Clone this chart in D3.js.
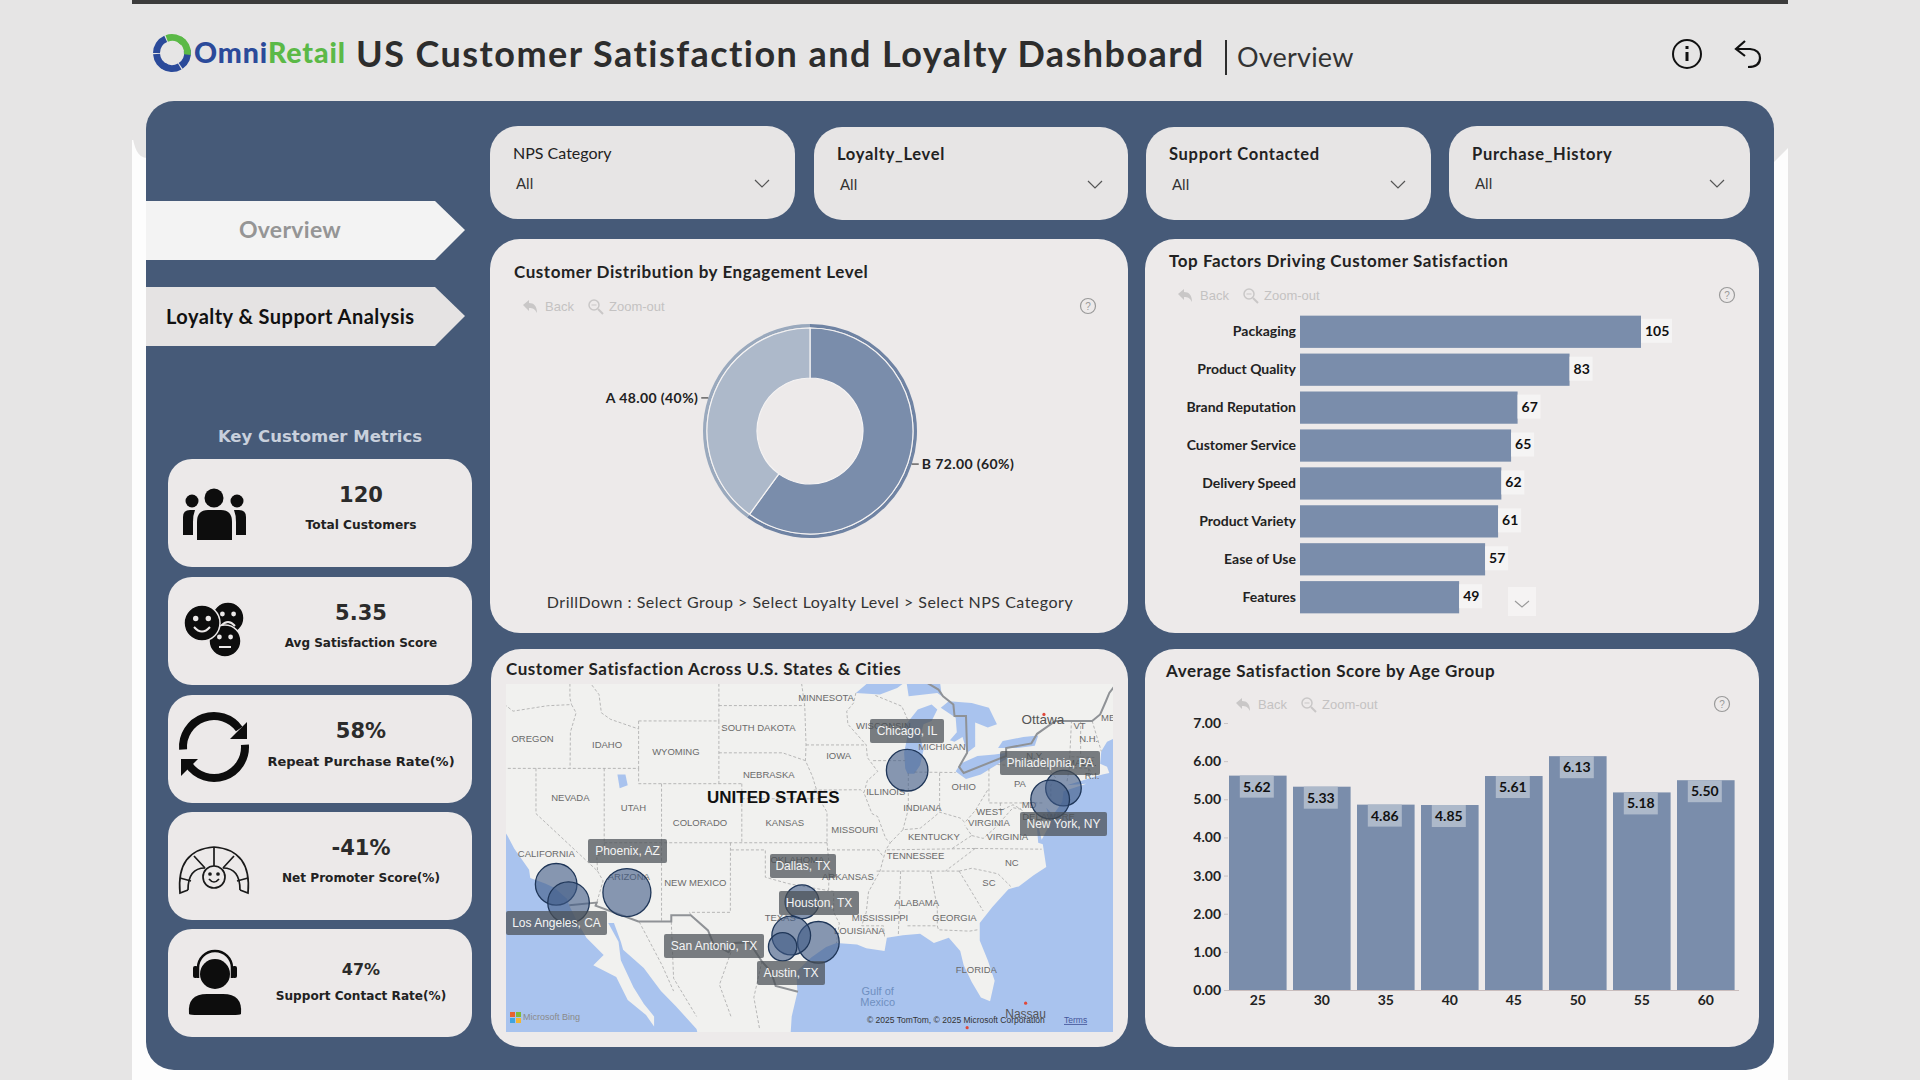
<!DOCTYPE html>
<html lang="en">
<head>
<meta charset="UTF-8">
<script src="https://d3js.org/d3.v7.min.js"></script>
<title>US Customer Satisfaction and Loyalty Dashboard</title>
<style>
  body { margin: 0; background: #e6e5e5; overflow: hidden; }
  svg { display: block; }
  text { font-family: Lato, sans-serif; }
  .axis path.domain { display: none; }
</style>
</head>
<body>
<svg id="dash" width="1920" height="1080"></svg>
<script>
// ---- data ----
const slicerLabels = ["NPS Category", "Loyalty_Level", "Support Contacted", "Purchase_History"];
const metricValues = ["120", "5.35", "58%", "-41%", "47%"];
const metricLabels = ["Total Customers", "Avg Satisfaction Score", "Repeat Purchase Rate(%)", "Net Promoter Score(%)", "Support Contact Rate(%)"];
const engagementGroups = ["B", "A"];
const engagementCounts = [72, 48];
const factorNames = ["Packaging", "Product Quality", "Brand Reputation", "Customer Service", "Delivery Speed", "Product Variety", "Ease of Use", "Features"];
const factorCounts = [105, 83, 67, 65, 62, 61, 57, 49];
const ageGroups = ["25", "30", "35", "40", "45", "50", "55", "60"];
const ageScores = [5.62, 5.33, 4.86, 4.85, 5.61, 6.13, 5.18, 5.50];
const cityNames = ["Chicago, IL", "Phoenix, AZ", "Los Angeles, CA", "San Diego, CA", "Dallas, TX", "Houston, TX", "Austin, TX", "San Antonio, TX", "New York, NY", "Philadelphia, PA"];
const cityLons = [-87.63, -112.07, -118.24, -117.16, -96.80, -95.37, -97.74, -98.49, -74.00, -75.16];
const cityLats = [41.88, 33.45, 34.05, 32.72, 32.78, 29.76, 30.27, 29.42, 40.71, 39.95];
const citySizes = [15, 20, 15, 15, 10, 15, 13, 7, 11, 13];

// basemap, lon/lat
const landOutline = [[-130,49],[-124.7,48.4],[-124.1,46.9],[-124,46.2],[-124.1,44.5],[-124.5,42.8],[-124.2,41.5],[-124.4,40.4],[-123.8,39.3],[-122.9,38],[-122.5,37.5],[-121.9,36.6],[-120.6,35.1],[-120.5,34.5],[-119.2,34.1],[-118.4,33.8],[-117.3,33],[-117.1,32.5],[-116.4,31.3],[-115.6,30.1],[-114.1,28.8],[-115,28],[-113,27.1],[-112,25.3],[-110.4,24.1],[-109.7,23.2],[-109.7,24],[-110.6,25],[-111.5,26.3],[-112.6,28.4],[-112.8,29.8],[-113.7,31.2],[-113.2,31.2],[-112.6,29.8],[-112.4,29.2],[-110.6,27.8],[-109.1,26],[-107.8,24.8],[-106,23],[-105.6,21.5],[-97.8,21.5],[-97.8,22.5],[-97.7,24],[-97.2,25.9],[-97.3,27.5],[-96,28.6],[-94.7,29.4],[-93.8,29.7],[-92,29.6],[-91.2,29.3],[-89.6,29.1],[-89.4,30.1],[-88,30.3],[-86.5,30.4],[-85.3,29.7],[-84,30.1],[-83,29.1],[-82.7,28],[-82,26.7],[-81.2,25.5],[-80.4,25.2],[-80,26.8],[-80.6,28.4],[-81.3,29.9],[-81.3,31.2],[-80.2,32.4],[-78.8,33.7],[-77.9,33.9],[-76.6,34.7],[-75.5,35.3],[-75.8,36.9],[-76.2,37],[-76.4,38.8],[-75.9,37.2],[-75.1,38.4],[-75.5,39.4],[-74.9,38.9],[-74.1,39.8],[-74,40.5],[-72,41],[-73.7,40.9],[-71.5,41.4],[-70.6,41.6],[-70,41.7],[-70.2,42.1],[-70.8,42.3],[-70.7,43.1],[-70.2,43.7],[-69,44.1],[-67.2,44.7],[-66,45],[-64,47],[-64,49]];
const lakes = [
  [[-92.1,46.7],[-90,46.6],[-88.5,47],[-87.7,47.4],[-87.5,46.5],[-85,46.7],[-84.6,46.5],[-84.8,47.5],[-86,48.7],[-89,48.3],[-90,47.9]],
  [[-87.8,42],[-87.6,41.65],[-87,41.65],[-86.5,42.2],[-86.2,43.2],[-86.5,44],[-86.2,44.8],[-85.5,45],[-85,45.7],[-85.5,46],[-86.7,45.7],[-87.5,45],[-88,44.5],[-87.5,44.4],[-87.9,43]],
  [[-84.7,45.8],[-83.4,45.2],[-83.3,44.3],[-83.9,43.8],[-83.5,43.7],[-82.8,44],[-82.4,43],[-81.7,43.4],[-81.7,44.9],[-80.6,44.6],[-79.8,44.8],[-80.5,45.8],[-82,46.1],[-84,46.2]],
  [[-83.4,41.8],[-82.5,41.3],[-81.2,41.6],[-79,42.6],[-78.9,43],[-80,42.9],[-81.5,42.8],[-83,42.3]],
  [[-79.7,43.3],[-78,43.3],[-76.5,43.45],[-76.2,44.1],[-77.5,44],[-79.3,43.75]],
  [[-112.9,41.6],[-112.2,41.6],[-112,40.9],[-112.7,40.7]]
];
const countryBorders = [
  [[-89.5,48],[-88.4,48.3],[-84.9,46.9],[-84.5,46.5],[-83.6,46],[-83.5,45.3],[-82.5,45.3],[-82.4,43],[-83.1,42.1],[-82.7,41.7],[-79,42.8],[-79,43.3],[-76.8,43.6],[-76.3,44.2],[-74.7,45],[-71.5,45],[-70.8,45.4],[-70.3,46.2],[-70,46.7],[-69.2,47.4]],
  [[-117.1,32.53],[-114.7,32.72],[-114.8,32.5],[-111.07,31.33],[-108.2,31.33],[-108.2,31.78],[-106.5,31.78],[-105,30.65],[-104.5,29.6],[-103.2,29],[-102.7,29.7],[-101.4,29.77],[-100.3,28.3],[-99.5,27.5],[-99.1,26.4],[-97.15,25.95]]
];
const stateBorders = [
  [[-124,46.25],[-123,46.15],[-122,45.6],[-119,45.93],[-116.9,46]],[[-117.04,49],[-117.04,46.4],[-116.9,46]],[[-116.9,46],[-116.5,45.5],[-117,44.3],[-117.03,42]],
  [[-124.2,42],[-111.05,42]],[[-120,42],[-120,39],[-114.63,35]],[[-114.63,35],[-114.15,34.3],[-114.7,32.72]],[[-114.05,42],[-114.05,36.2],[-114.7,36.1],[-114.63,35]],
  [[-114.05,37],[-94.62,37]],[[-109.05,37],[-109.05,31.33]],[[-109.05,41],[-109.05,37]],[[-111.05,42],[-111.05,41],[-102.05,41]],[[-111.05,45],[-111.05,42]],[[-104.05,45],[-104.05,41]],
  [[-111.05,45],[-104.05,45]],[[-116.05,49],[-116.05,48],[-114.5,46.6],[-114.3,45.5],[-113.5,45.1],[-111.05,44.5]],[[-104.05,49],[-104.05,45]],[[-104.05,45.94],[-96.56,45.94]],
  [[-104.05,43],[-98.5,43],[-96.5,42.5]],[[-102.05,41],[-102.05,37]],[[-102.05,40],[-95.3,40]],[[-103.04,37],[-103.05,32],[-106.6,32],[-106.5,31.78]],
  [[-103,36.5],[-100,36.5],[-100,34.56],[-98,34.1],[-96,33.8],[-94.5,33.6]],[[-94.62,37],[-94.43,35.4],[-94.48,33.6],[-94.04,33.55],[-94.04,32],[-93.55,31.2],[-93.8,29.7]],
  [[-97.2,49],[-96.56,45.9],[-96.45,43.5],[-96.5,42.5],[-95.9,41.5],[-95.3,40],[-94.62,39.1],[-94.62,37]],[[-96.45,43.5],[-91.2,43.5]],[[-95.77,40.58],[-91.7,40.6],[-91.4,40.4]],
  [[-92.1,46.7],[-92.3,46.1],[-92.9,45.6],[-92.8,44.8],[-91.2,43.5],[-91.1,42.7],[-90.2,41.8],[-91.1,41.2],[-91.4,40.4],[-90.7,39],[-90.2,38.8],[-89.5,37.3],[-89.1,37],[-89.5,36.5],[-90,35],[-91,33.5],[-91.2,32],[-91.6,31],[-89.7,31],[-89.6,30.2]],
  [[-94.62,36.5],[-90.15,36.5],[-89.7,36]],[[-90.6,42.5],[-87.8,42.5]],[[-90.4,46.55],[-88.1,45.9],[-87.6,45.1]],[[-87.53,41.7],[-87.53,39.3],[-88,37.9]],
  [[-89.1,37],[-88,37.9],[-86.5,38],[-85.4,38.7],[-84.8,39.1],[-83,38.7],[-82.6,38.4],[-81.7,39.2],[-80.6,40.6]],[[-84.8,41.7],[-84.8,39.1]],[[-87,41.76],[-83.4,41.73]],
  [[-89.4,36.5],[-81.7,36.6]],[[-81.7,36.6],[-75.9,36.55]],[[-90.3,35],[-83.1,35]],[[-81.7,36.6],[-84.3,35]],[[-88.2,35],[-88.4,30.3]],[[-85.6,35],[-85,32.3],[-85,31]],
  [[-87.6,31],[-85,31],[-84.9,30.7],[-82.2,30.6],[-81.5,30.7]],[[-83.1,35],[-81,32.1]],[[-83.1,35],[-82,35.2],[-80.8,35],[-79.7,34.8],[-78.6,33.9]],[[-83.7,36.6],[-82,37.5],[-82.6,38.2]],
  [[-82,37.5],[-81,37.3],[-80,38],[-78.4,39.4],[-77.7,39.3]],[[-80.5,42],[-80.5,39.72],[-75.8,39.72]],[[-79.76,42.25],[-75.3,42],[-74.7,41.4],[-75.1,40.9],[-75.1,39.9]],
  [[-73.5,42],[-73.3,45]],[[-73.5,42],[-73.7,41.1]],[[-79.5,39.72],[-79.5,39.2],[-78.4,39.6],[-77.7,39.3],[-77,38.6],[-76.3,38]],[[-73.3,42.75],[-71.3,42.7]],[[-73.5,42.05],[-71.8,42],[-71.4,41.5]],[[-71.8,42],[-71.8,41.35]],[[-71.5,45],[-70.7,43.1]],[[-72.5,45],[-72.5,42.75]],
  [[-111,31.3],[-109,28],[-108,26]],[[-108.2,31.3],[-108,27],[-106,24]],[[-103,29],[-104,26.5],[-103,24]],[[-100.3,28.3],[-101,25.5],[-100.5,23]]
];
const stateLabelNames = ["MINNESOTA","SOUTH DAKOTA","OREGON","IDAHO","WYOMING","NEBRASKA","IOWA","WISCONSIN","MICHIGAN","N.Y.","MASS.","VT","N.H.","ME","R.I.","NEVADA","UTAH","ILLINOIS","OHIO","PA","INDIANA","COLORADO","KANSAS","MISSOURI","KENTUCKY","WEST","VIRGINIA","VIRGINIA","MD","DELAWARE","TENNESSEE","NC","SC","ALABAMA","GEORGIA","MISSISSIPPI","LOUISIANA","ARKANSAS","OKLAHOMA","NEW MEXICO","ARIZONA","CALIFORNIA","TEXAS","FLORIDA"];
const stateLabelLons = [-94.7,-100.6,-120.3,-113.8,-107.8,-99.7,-93.6,-89.7,-84.6,-76.5,-72.4,-72.6,-71.8,-70.1,-71.5,-117,-111.5,-89.5,-82.7,-77.8,-86.3,-105.7,-98.3,-92.2,-85.3,-80.4,-80.5,-78.9,-77,-75.3,-86.9,-78.5,-80.5,-86.8,-83.5,-90,-91.8,-92.8,-97.2,-106.1,-111.9,-119.1,-98.7,-81.6];
const stateLabelLats = [46.4,44.6,43.9,43.5,43.1,41.6,42.8,44.7,43.4,42.8,42.4,44.7,43.9,45.2,41.5,40.1,39.4,40.5,40.8,41,39.4,38.4,38.4,37.9,37.4,39.1,38.4,37.4,39.6,38.8,36.1,35.6,34.2,32.7,31.6,31.6,30.6,34.6,35.8,34.2,34.6,36.2,31.6,27.7];

// ---- helpers ----
const svg = d3.select("#dash");
const colBar = "#7a8dab", colLight = "#adb9ca", colPanel = "#465a78", colCard = "#edeaea";

function txt(g, x, y, s, size, opts = {}) {
  return g.append("text").attr("x", x).attr("y", y).attr("dy", "0.35em")
    .attr("font-size", size)
    .attr("font-weight", opts.weight || 400)
    .attr("fill", opts.fill || "#222")
    .attr("text-anchor", opts.anchor || "start")
    .attr("letter-spacing", opts.spacing || null)
    .style("font-family", opts.font || null)
    .text(s);
}
function card(x, y, w, h, r, fill) {
  svg.append("rect").attr("x", x).attr("y", y).attr("width", w).attr("height", h).attr("rx", r).attr("fill", fill || colCard);
}
function toolbar(arrowX, y, helpX) {
  const g = svg.append("g").attr("stroke", "#c9c7c7");
  g.append("path").attr("fill", "#c9c7c7").attr("stroke", "none")
    .attr("d", `M${arrowX - 7},${y - 1}l6,-5v3c5,0 8,3 8,10c-2,-4 -4,-5 -8,-5v3z`);
  g.append("circle").attr("cx", arrowX + 64).attr("cy", y - 1).attr("r", 5).attr("fill", "none").attr("stroke-width", 1.5);
  g.append("path").attr("d", `M${arrowX + 68},${y + 3}l5,5`).attr("stroke-width", 2);
  g.append("path").attr("d", `M${arrowX + 61.5},${y - 1}h5`).attr("stroke-width", 1);
  txt(svg, arrowX + 15, y, "Back", 13, { fill: "#c4c2c2", font: "Liberation Sans" });
  txt(svg, arrowX + 79, y, "Zoom-out", 13, { fill: "#c4c2c2", font: "Liberation Sans" });
  const h = svg.append("g");
  h.append("circle").attr("cx", helpX).attr("cy", y).attr("r", 7.5).attr("fill", "none").attr("stroke", "#9a9a9a").attr("stroke-width", 1.2);
  txt(h, helpX, y, "?", 10, { fill: "#9a9a9a", anchor: "middle", font: "Liberation Sans" });
}

// ---- page frame ----
svg.append("rect").attr("x", 132).attr("y", 140).attr("width", 1656).attr("height", 940).attr("fill", "#fdfdfd");
svg.append("path").attr("fill", "#e6e5e5").attr("d", "M132,130 Q134,158 147,158 L1774,162 L1788,148 L1788,0 L132,0 Z");
svg.append("rect").attr("x", 132).attr("y", 0).attr("width", 1656).attr("height", 4).attr("fill", "#3c3c3c");
card(146, 101, 1628, 969, 28, colPanel);

// ---- header ----
const head = svg.append("g");
const swirl = head.append("g").attr("transform", "translate(172,53)");
[[200, "#2b4a9a"], [270, "#2b4a9a"], [80, "#2b4a9a"], [150, "#2b4a9a"], [340, "#5bb947"], [30, "#5bb947"]].forEach(([a, c]) => {
  swirl.append("path").attr("fill", c)
    .attr("d", d3.arc().innerRadius(12).outerRadius(19).startAngle(a * Math.PI / 180).endAngle((a + 66) * Math.PI / 180)());
});
const logo = txt(head, 194, 53, "Omni", 28.5, { weight: 900, fill: "#2b4a9a", spacing: 0.9 });
logo.append("tspan").attr("fill", "#5bb947").text("Retail");
txt(head, 356, 54, "US Customer Satisfaction and Loyalty Dashboard", 36, { weight: 700, fill: "#2d2d2d", spacing: 1.45 });
head.append("rect").attr("x", 1225).attr("y", 40).attr("width", 2).attr("height", 35).attr("fill", "#2d2d2d");
txt(head, 1237, 58, "Overview", 27, { fill: "#333", spacing: 0.2 });
head.append("circle").attr("cx", 1687).attr("cy", 54).attr("r", 14).attr("fill", "none").attr("stroke", "#111").attr("stroke-width", 2);
head.append("rect").attr("x", 1685.5).attr("y", 52).attr("width", 3).attr("height", 9).attr("fill", "#111");
head.append("rect").attr("x", 1685.5).attr("y", 46).attr("width", 3).attr("height", 3).attr("fill", "#111");
head.append("path").attr("fill", "none").attr("stroke", "#111").attr("stroke-width", 2.2)
  .attr("d", "M1745,41 L1736,49 L1745,56 M1736,49 H1750 Q1760,50 1760,58 Q1760,67 1748,67");

// ---- slicers ----
const slicerBoxes = [[490, 126, 305, 93], [814, 127, 314, 93], [1146, 127, 285, 93], [1449, 126, 301, 93]];
slicerLabels.forEach((s, i) => {
  const [x, y, w, h] = slicerBoxes[i];
  card(x, y, w, h, 28, "#e7e5e5");
  txt(svg, x + 23, y + (i === 3 ? 28 : 27), s, i === 0 ? 16 : 16.5, { weight: i === 0 ? 400 : 700, fill: "#222", spacing: i === 0 ? 0 : 0.7 });
  txt(svg, x + 26, y + 58, "All", 15, { fill: "#333" });
  svg.append("path").attr("fill", "none").attr("stroke", "#555").attr("stroke-width", 1.2)
    .attr("d", `M${x + w - 40},${y + 54}l7,7l7,-7`);
});

// ---- left tabs ----
svg.append("path").attr("fill", "#f3f3f3").attr("d", "M146,201H435L465,230L435,260H146Z");
svg.append("path").attr("fill", "#e5e3e3").attr("d", "M146,287H435L465,316L435,346H146Z");
txt(svg, 290, 230, "Overview", 23, { anchor: "middle", fill: "#959595", weight: 700, spacing: 0.3 });
txt(svg, 166, 317, "Loyalty & Support Analysis", 20, { weight: 700, fill: "#111", spacing: 0.45 });
txt(svg, 320, 436, "Key Customer Metrics", 16.5, { anchor: "middle", weight: 700, fill: "#c9d0dc", font: "DejaVu Sans" });

// ---- metric cards ----
const metricTops = [459, 577, 695, 812, 929];
const metricValueSize = [21, 21, 21, 21, 16];
const metricLabelSize = [12.2, 12, 13, 12.1, 12.1];
metricValues.forEach((v, i) => {
  const top = metricTops[i];
  card(168, top, 304, 108, 24, "#ece9e9");
  txt(svg, 361, top + (i === 4 ? 40 : 36), v, metricValueSize[i], { anchor: "middle", font: "DejaVu Sans", weight: 700, fill: "#2b2b2b" });
  txt(svg, 361, top + (i === 4 ? 67 : 66), metricLabels[i], metricLabelSize[i], { anchor: "middle", font: "DejaVu Sans", weight: 700, fill: "#222" });
});

// icons
const ic = svg.append("g").attr("fill", "#0d0d0d");
// people
ic.append("circle").attr("cx", 214).attr("cy", 498).attr("r", 9.5);
ic.append("circle").attr("cx", 192).attr("cy", 501).attr("r", 6.5);
ic.append("circle").attr("cx", 237).attr("cy", 501).attr("r", 6.5);
ic.append("path").attr("d", "M197,540V522Q197,510 208,510H221Q232,510 232,522V540Z");
ic.append("path").attr("d", "M183,535V517Q183,510 190,510H195Q193,515 193,522V535Z");
ic.append("path").attr("d", "M246,535V517Q246,510 239,510H234Q236,515 236,522V535Z");
// faces
[[228, 618, 16, "sad"], [225, 641, 16, "flat"], [202, 623, 18, "happy"]].forEach(([cx, cy, r, kind]) => {
  ic.append("circle").attr("cx", cx).attr("cy", cy).attr("r", r).attr("stroke", "#ece9e9").attr("stroke-width", 1.5);
  [-1, 1].forEach(s => ic.append("circle").attr("cx", cx + s * r * 0.35).attr("cy", cy - r * 0.25).attr("r", r * 0.15).attr("fill", "#ece9e9"));
  const mouth = kind === "happy" ? `M${cx - 8},${cy + 4}Q${cx},${cy + 13} ${cx + 8},${cy + 4}`
    : kind === "sad" ? `M${cx - 7},${cy + 8}Q${cx},${cy} ${cx + 7},${cy + 8}` : `M${cx - 6},${cy + 6}H${cx + 6}`;
  ic.append("path").attr("d", mouth).attr("fill", "none").attr("stroke", "#ece9e9").attr("stroke-width", 2);
});
// refresh arrows
const refresh = ic.append("g").attr("transform", "translate(214,747)");
[[-1.65, 0.95], [1.5, 4.1]].forEach(([a0, a1]) => {
  refresh.append("path").attr("d", d3.arc().innerRadius(27).outerRadius(35).startAngle(a0).endAngle(a1)());
});
refresh.append("path").attr("d", "M16,-8L33,-8L33,-25Z");
refresh.append("path").attr("d", "M-16,12L-33,12L-33,29Z");
// gauge
const gauge = svg.append("g").attr("transform", "translate(214,884)").attr("fill", "none").attr("stroke", "#1a1a1a").attr("stroke-width", 1.7);
gauge.append("path").attr("d", "M-26,6L-34,9Q-38,-34 0,-37Q38,-34 34,9L26,6");
gauge.append("path").attr("d", "M-26,6Q-26,-16 -9,-16M26,6Q26,-16 9,-16");
gauge.append("path").attr("d", "M-34,-6L-23,-3M-20,-28L-9,-16M0,-37V-18M20,-28L9,-16M34,-6L23,-3");
gauge.append("circle").attr("cy", -7).attr("r", 11);
gauge.append("path").attr("d", "M-5,-5Q0,1 5,-5");
gauge.append("circle").attr("cx", -4).attr("cy", -10).attr("r", 1).attr("fill", "#1a1a1a");
gauge.append("circle").attr("cx", 4).attr("cy", -10).attr("r", 1).attr("fill", "#1a1a1a");
// support agent
ic.append("circle").attr("cx", 215).attr("cy", 974).attr("r", 15);
ic.append("path").attr("d", "M198,978V968A17,17 0 0 1 232,968V978").attr("fill", "none").attr("stroke", "#0d0d0d").attr("stroke-width", 2.5);
ic.append("rect").attr("x", 193).attr("y", 966).attr("width", 5).attr("height", 12).attr("rx", 2);
ic.append("rect").attr("x", 232).attr("y", 966).attr("width", 5).attr("height", 12).attr("rx", 2);
ic.append("path").attr("d", "M189,1014Q187,994 207,994H223Q243,994 241,1014Q240,1015 232,1015H198Q190,1015 189,1014Z");

// ---- chart cards ----
card(490, 239, 638, 394, 30);
card(1145, 239, 614, 394, 30);
card(491, 649, 637, 398, 30);
card(1145, 649, 614, 398, 30);

// ---- donut ----
const titleStyle = { weight: 700, fill: "#222", spacing: 0.55 };
txt(svg, 514, 272, "Customer Distribution by Engagement Level", 17, titleStyle);
toolbar(530, 306, 1088);
const pieGen = d3.pie().sort(null);
const slices = pieGen(engagementCounts);
const donutColor = d3.scaleOrdinal().domain(engagementGroups).range([colBar, colLight]);
const rimColor = d3.scaleOrdinal().domain(engagementGroups).range(["#6f83a3", "#9aa9bd"]);
const donut = svg.append("g").attr("transform", "translate(810,431)");
const rimArc = d3.arc().innerRadius(103.5).outerRadius(107);
const bodyArc = d3.arc().innerRadius(53).outerRadius(103);
donut.selectAll("path.rim").data(slices).join("path").attr("class", "rim").attr("d", rimArc)
  .attr("fill", (d, i) => rimColor(engagementGroups[i]));
donut.selectAll("path.body").data(slices).join("path").attr("class", "body").attr("d", bodyArc)
  .attr("fill", (d, i) => donutColor(engagementGroups[i])).attr("stroke", "#f5f3f3").attr("stroke-width", 1.2);
slices.forEach((d, i) => {
  const mid = (d.startAngle + d.endAngle) / 2, s = Math.sin(mid), c = -Math.cos(mid);
  const side = s > 0 ? 1 : -1;
  const x0 = 107 * s, y0 = 107 * c;
  donut.append("path").attr("d", `M${x0},${y0}h${side * 7}`).attr("stroke", "#222").attr("stroke-width", 1);
  const pct = Math.round(d.value / d3.sum(engagementCounts) * 100);
  txt(donut, x0 + side * 10, y0, `${engagementGroups[i]} ${d.value.toFixed(2)} (${pct}%)`, 14, { anchor: side > 0 ? "start" : "end", weight: 700, fill: "#222", spacing: 0.4 });
});
txt(svg, 810, 602, "DrillDown : Select Group > Select Loyalty Level > Select NPS Category", 16, { anchor: "middle", fill: "#333", spacing: 0.5 });

// ---- factors ----
txt(svg, 1169, 261, "Top Factors Driving Customer Satisfaction", 17, titleStyle);
toolbar(1185, 295, 1727);
const fy = d3.scaleBand().domain(factorNames).range([313, 616]).paddingInner(0.15).paddingOuter(0.07);
const fx = d3.scaleLinear().domain([0, 105]).range([1300, 1641]);
svg.append("g").selectAll("rect").data(factorCounts).join("rect")
  .attr("x", fx(0)).attr("y", (d, i) => fy(factorNames[i])).attr("height", fy.bandwidth())
  .attr("width", d => fx(d) - fx(0)).attr("fill", colBar);
const fAxis = svg.append("g").attr("class", "axis").attr("transform", `translate(${fx(0) - 4},0)`)
  .call(d3.axisLeft(fy).tickSize(0).tickPadding(0));
fAxis.selectAll("text").attr("font-size", 14).attr("font-weight", 700).attr("fill", "#222");
factorCounts.forEach((d, i) => {
  const w = String(d).length * 8 + 7;
  const y = fy(factorNames[i]) + fy.bandwidth() / 2;
  svg.append("rect").attr("x", fx(d)).attr("y", y - 13).attr("width", w).attr("height", 24).attr("fill", "#f5f4f4");
  txt(svg, fx(d) + 4, y - 1, d, 14, { weight: 700, fill: "#111" });
});
svg.append("rect").attr("x", 1508).attr("y", 587).attr("width", 28).attr("height", 29).attr("fill", "#f5f3f3");
svg.append("path").attr("d", "M1515,601l7,6l7,-6").attr("fill", "none").attr("stroke", "#999").attr("stroke-width", 1.1);

// ---- map ----
txt(svg, 506, 669, "Customer Satisfaction Across U.S. States & Cities", 17, titleStyle);
const mapClip = svg.append("clipPath").attr("id", "mapClip");
mapClip.append("rect").attr("x", 506).attr("y", 684).attr("width", 607).attr("height", 348);
const map = svg.append("g").attr("clip-path", "url(#mapClip)");
const projection = d3.geoMercator().scale(657).translate([1912, 1300]);
const toLine = d3.line().x(d => projection(d)[0]).y(d => projection(d)[1]);
map.append("rect").attr("x", 506).attr("y", 684).attr("width", 607).attr("height", 348).attr("fill", "#a9c3ee");
map.append("path").attr("d", toLine(landOutline) + "Z").attr("fill", "#f1f1ef");
map.selectAll("path.lake").data(lakes).join("path").attr("class", "lake").attr("d", d => toLine(d) + "Z").attr("fill", "#a9c3ee");
map.selectAll("path.state").data(stateBorders).join("path").attr("class", "state").attr("d", toLine)
  .attr("fill", "none").attr("stroke", "#a8a8a8").attr("stroke-width", 0.8).attr("stroke-dasharray", "3,2");
map.selectAll("path.country").data(countryBorders).join("path").attr("class", "country").attr("d", toLine)
  .attr("fill", "none").attr("stroke", "#8f9296").attr("stroke-width", 2);
stateLabelNames.forEach((s, i) => {
  const [x, y] = projection([stateLabelLons[i], stateLabelLats[i]]);
  txt(map, x, y, s, 9.5, { anchor: "middle", fill: "#6a6a6a", font: "Liberation Sans" });
});
const place = (lon, lat, s, size, opts) => { const [x, y] = projection([lon, lat]); txt(map, x, y, s, size, opts); };
place(-99.3, 40.1, "UNITED STATES", 17, { anchor: "middle", weight: 700, fill: "#111", font: "Liberation Sans" });
place(-75.8, 45.1, "Ottawa", 13.5, { anchor: "middle", fill: "#555", font: "Liberation Sans" });
place(-77.3, 24.2, "Nassau", 12, { anchor: "middle", fill: "#555", font: "Liberation Sans" });
place(-90.2, 26, "Gulf of", 11, { anchor: "middle", fill: "#6f8fc0", font: "Liberation Sans" });
place(-90.2, 25.1, "Mexico", 11, { anchor: "middle", fill: "#6f8fc0", font: "Liberation Sans" });
[[-75.7, 45.4], [-77.3, 25.05], [-82.4, 23.1]].forEach(p => {
  const [x, y] = projection(p);
  map.append("circle").attr("cx", x).attr("cy", y).attr("r", 1.6).attr("fill", "#e0483a");
});

// bubbles
const rScale = d3.scaleSqrt().domain([0, 20]).range([0, 24]);
map.selectAll("circle.city").data(cityNames).join("circle").attr("class", "city")
  .attr("cx", (d, i) => projection([cityLons[i], cityLats[i]])[0])
  .attr("cy", (d, i) => projection([cityLons[i], cityLats[i]])[1])
  .attr("r", (d, i) => rScale(citySizes[i]))
  .attr("fill", "#3f5a86").attr("fill-opacity", 0.6).attr("stroke", "#1f3658").attr("stroke-width", 1.3);

// city tags
const tagBoxes = {
  "Chicago, IL": [870, 719, 74], "Phoenix, AZ": [588, 839, 79], "Los Angeles, CA": [506, 911, 101],
  "Philadelphia, PA": [1000, 751, 100], "New York, NY": [1020, 812, 87], "Dallas, TX": [770, 854, 66],
  "Houston, TX": [779, 891, 80], "San Antonio, TX": [664, 934, 100], "Austin, TX": [757, 961, 68]
};
Object.entries(tagBoxes).forEach(([name, [x, y, w]]) => {
  map.append("rect").attr("x", x).attr("y", y).attr("width", w).attr("height", 24).attr("rx", 2).attr("fill", "#4a4f55").attr("fill-opacity", 0.72);
  txt(map, x + w / 2, y + 12, name, 12, { anchor: "middle", fill: "#f4f4f4", font: "Liberation Sans" });
});

// bing + copyright
[[0, 0, "#e8622f"], [6, 0, "#7fb93b"], [0, 6, "#3fa4e0"], [6, 6, "#f2b533"]].forEach(([dx, dy, c]) => {
  map.append("rect").attr("x", 510 + dx).attr("y", 1012 + dy).attr("width", 5).attr("height", 5).attr("fill", c);
});
txt(map, 523, 1017, "Microsoft Bing", 9, { fill: "#8a8a8a", font: "Liberation Sans" });
txt(map, 867, 1020, "© 2025 TomTom, © 2025 Microsoft Corporation", 8.5, { fill: "#333", font: "Liberation Sans" });
txt(map, 1064, 1020, "Terms", 8.5, { fill: "#44559a", font: "Liberation Sans" }).attr("text-decoration", "underline");

// ---- age chart ----
txt(svg, 1166, 671, "Average Satisfaction Score by Age Group", 17, titleStyle);
toolbar(1243, 704, 1722);
const ax = d3.scaleBand().domain(ageGroups).range([1222.6, 1741]).padding(0.1);
const ay = d3.scaleLinear().domain([0, 7]).range([990, 723]);
const yAxis = svg.append("g").attr("class", "axis").attr("transform", "translate(1228,0)")
  .call(d3.axisLeft(ay).tickValues(d3.range(0, 8)).tickFormat(d3.format(".2f")).tickSize(4).tickPadding(3));
yAxis.selectAll("line").attr("stroke", "#c9c4c4");
yAxis.selectAll("text").attr("font-size", 14).attr("font-weight", 700).attr("fill", "#222");
svg.append("g").selectAll("rect").data(ageScores).join("rect")
  .attr("x", (d, i) => ax(ageGroups[i])).attr("width", ax.bandwidth())
  .attr("y", d => ay(d)).attr("height", d => ay(0) - ay(d)).attr("fill", colBar);
const xAxis = svg.append("g").attr("class", "axis").attr("transform", "translate(0,990)")
  .call(d3.axisBottom(ax).tickSize(0).tickPadding(5));
xAxis.selectAll("text").attr("font-size", 14).attr("font-weight", 700).attr("fill", "#222");
svg.append("path").attr("d", "M1228,990.5H1739").attr("stroke", "#c9bdbd").attr("stroke-width", 1);
ageScores.forEach((d, i) => {
  const cx = ax(ageGroups[i]) + ax.bandwidth() / 2 - 1;
  svg.append("rect").attr("x", cx - 17).attr("y", ay(d)).attr("width", 34).attr("height", 22).attr("fill", colLight);
  txt(svg, cx, ay(d) + 11, d.toFixed(2), 14, { anchor: "middle", weight: 700, fill: "#111" });
});
</script>
</body>
</html>
